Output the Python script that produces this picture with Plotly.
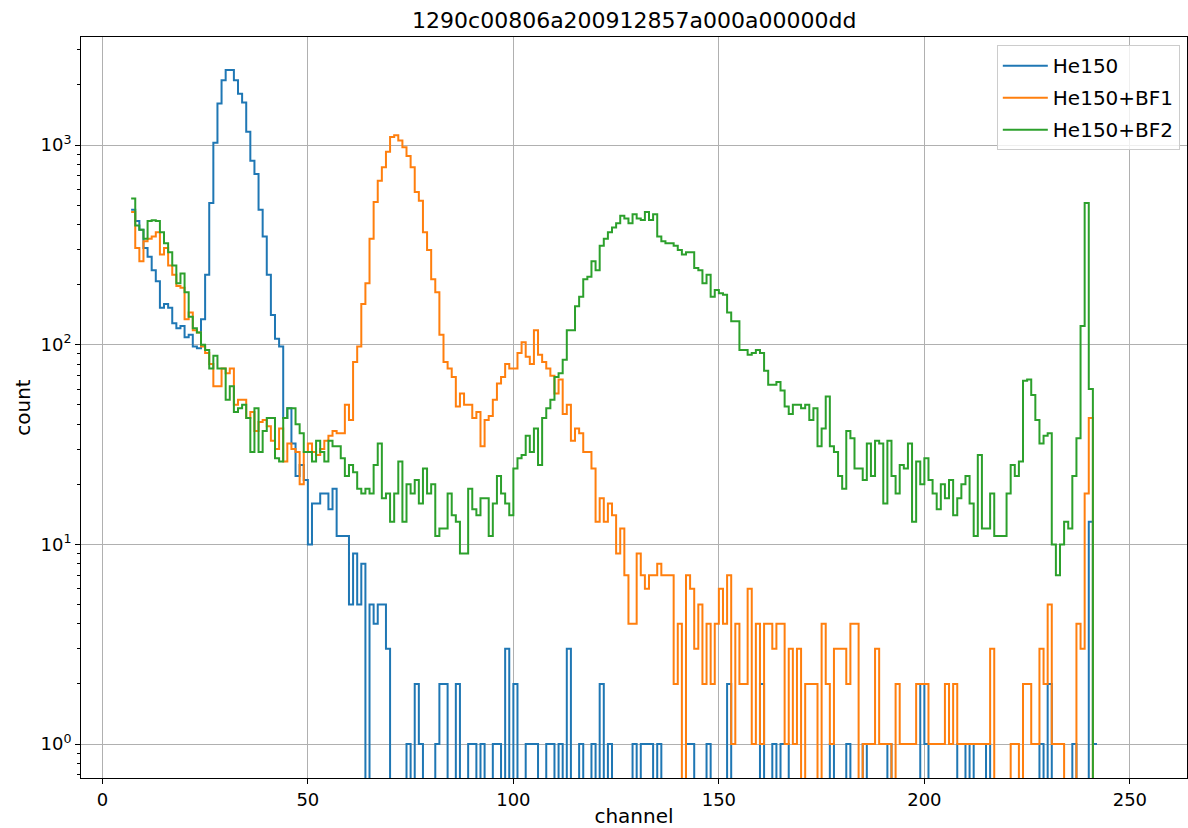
import numpy as np
import plotly.graph_objects as go

# Channel numbers (left bin edge of each count)
channels = list(range(7, 242))

# Counts per channel for each measurement
he150 = [
    474, 417, 376, 305, 276, 236, 208, 153, 160, 153,      # 7-16
    128, 121, 124, 109, 112, 98, 96, 134, 224, 512,        # 17-26
    1026, 1614, 2111, 2376, 2376, 2111, 1808, 1631, 1167, 835,  # 27-36
    716, 474, 348, 224, 141, 107, 98, 43, 48, 32,          # 37-46
    22, 25, 21, 10, 16, 16, 18, 18, 15, 19,                # 47-56
    11, 11, 11, 5, 9, 5, 8, 0, 5, 4,                       # 57-66
    5, 5, 3, 0, 0, 0, 0, 1, 0, 2,                          # 67-76
    1, 0, 0, 0, 1, 2, 2, 0, 0, 2,                          # 77-86
    0, 0, 1, 1, 0, 1, 0, 0, 1, 1,                          # 87-96
    0, 3, 0, 2, 0, 0, 1, 1, 1, 0,                          # 97-106
    0, 1, 1, 0, 1, 0, 3, 0, 0, 1,                          # 107-116
    0, 0, 1, 0, 2, 0, 1, 0, 0, 0,                          # 117-126
    0, 0, 1, 0, 1, 1, 1, 0, 1, 0,                          # 127-136
    0, 0, 0, 0, 0, 1, 1, 0, 0, 0,                          # 137-146
    1, 0, 0, 0, 0, 2, 0, 0, 0, 0,                          # 147-156
    0, 0, 0, 2, 0, 0, 1, 0, 1, 1,                          # 157-166
    0, 0, 0, 0, 0, 0, 0, 0, 0, 0,                          # 167-176
    1, 0, 0, 0, 1, 0, 0, 0, 1, 0,                          # 177-186
    0, 0, 0, 0, 1, 0, 0, 0, 0, 0,                          # 187-196
    0, 0, 2, 1, 0, 0, 0, 0, 0, 0,                          # 197-206
    0, 1, 1, 0, 1, 0, 0, 0, 1, 0,                          # 207-216
    0, 0, 0, 0, 0, 0, 0, 0, 0, 0,                          # 217-226
    0, 1, 0, 2, 0, 0, 0, 0, 0, 1,                          # 227-236
    0, 0, 0, 13, 1,                                        # 237-241
]

he150_bf1 = [
    462, 305, 262, 330, 339, 348, 366, 283, 305, 249,      # 7-16
    224, 197, 193, 134, 145, 118, 115, 98, 91, 80,         # 17-26
    62, 62, 76, 72, 76, 50, 53, 53, 43, 46,                # 27-36
    37, 41, 42, 39, 33, 30, 38, 26, 32, 30,                # 37-46
    29, 20, 29, 32, 29, 28, 30, 33, 35, 37,                # 47-56
    36, 36, 50, 42, 82, 98, 160, 203, 339, 518,            # 57-66
    662, 773, 925, 1097, 1120, 1053, 975, 880, 773, 582,   # 67-76
    526, 366, 298, 213, 183, 112, 82, 76, 69, 49,          # 77-86
    57, 50, 50, 43, 46, 31, 42, 44, 53, 64,                # 87-96
    69, 80, 76, 76, 91, 103, 87, 80, 118, 89,              # 97-106
    82, 76, 70, 57, 67, 45, 50, 33, 38, 36,                # 107-116
    29, 29, 24, 13, 17, 13, 16, 14, 9, 12,                 # 117-126
    7, 4, 4, 9, 7, 6, 7, 7, 8, 7,                          # 127-136
    7, 7, 2, 4, 0, 7, 6, 3, 5, 2,                          # 137-146
    4, 2, 4, 6, 4, 7, 1, 4, 2, 2,                          # 147-156
    6, 1, 4, 1, 4, 4, 3, 4, 4, 1,                          # 157-166
    3, 1, 3, 0, 2, 2, 2, 0, 4, 2,                          # 167-176
    1, 3, 3, 3, 2, 4, 4, 0, 1, 1,                          # 177-186
    1, 3, 1, 1, 1, 0, 2, 1, 1, 1,                          # 187-196
    1, 2, 2, 2, 1, 1, 1, 1, 2, 1,                          # 197-206
    2, 1, 1, 1, 1, 1, 1, 1, 1, 3,                          # 207-216
    0, 0, 0, 0, 1, 1, 0, 2, 2, 1,                          # 217-226
    1, 3, 2, 5, 1, 1, 1, 0, 0, 0,                          # 227-236
    4, 3, 18, 43, 0,                                       # 237-241
]

he150_bf2 = [
    539, 395, 376, 339, 417, 420, 417, 366, 322, 290,      # 7-16
    249, 203, 227, 183, 138, 121, 115, 100, 94, 76,        # 17-26
    88, 76, 76, 53, 62, 46, 48, 50, 43, 29,                # 27-36
    48, 29, 37, 43, 43, 27, 26, 43, 48, 48,                # 37-46
    40, 36, 29, 29, 26, 33, 29, 26, 33, 31,                # 47-56
    31, 27, 22, 25, 23, 19, 18, 19, 18, 25,                # 57-66
    32, 17, 18, 13, 18, 26, 13, 20, 18, 21,                # 67-76
    16, 24, 18, 20, 11, 12, 12, 18, 14, 13,                # 77-86
    9, 9, 19, 15, 14, 17, 17, 11, 16, 22,                  # 87-96
    18, 16, 14, 24, 27, 28, 35, 29, 38, 25,                # 97-106
    43, 48, 53, 69, 72, 84, 118, 118, 156, 174,            # 107-116
    213, 219, 262, 236, 313, 339, 366, 386, 406, 443,      # 117-126
    428, 406, 450, 428, 421, 462, 421, 450, 348, 330,      # 127-136
    322, 322, 313, 298, 283, 290, 290, 242, 236, 203,      # 137-146
    224, 174, 188, 181, 178, 145, 131, 131, 94, 94,        # 147-156
    89, 91, 94, 91, 74, 63, 63, 65, 59, 49,                # 157-166
    45, 50, 50, 48, 50, 42, 48, 31, 38, 55,                # 167-176
    31, 29, 22, 19, 37, 34, 24, 24, 21, 32,                # 177-186
    22, 33, 32, 16, 33, 22, 18, 25, 24, 32,                # 187-196
    13, 26, 20, 27, 21, 18, 15, 20, 17, 21,                # 197-206
    14, 17, 20, 22, 16, 11, 28, 12, 12, 18,                # 207-216
    11, 11, 11, 18, 25, 22, 26, 66, 67, 56,                # 217-226
    42, 32, 35, 36, 10, 7, 10, 13, 12, 22,                 # 227-236
    34, 124, 512, 60, 0,                                   # 237-241
]

series = [
    ("He150", he150, "#1f77b4"),
    ("He150+BF1", he150_bf1, "#ff7f0e"),
    ("He150+BF2", he150_bf2, "#2ca02c"),
]

# y-axis decades and their labels
decades = [1, 10, 100, 1000]
decade_labels = ["10<sup>0</sup>", "10<sup>1</sup>", "10<sup>2</sup>", "10<sup>3</sup>"]
minor_vals = [m * d for d in [0.1, 1, 10, 100, 1000] for m in range(2, 10)]

fig = go.Figure()
for name, counts, color in series:
    x = np.array(channels + [channels[-1] + 1], dtype=float)
    y = np.array(counts + [counts[-1]], dtype=float)
    # empty channels fall below the log axis, so the step drops out of view
    y = np.where(y > 0, y, 1e-3)
    fig.add_trace(go.Scatter(
        x=x, y=y, mode="lines", name=name, legendgroup=name,
        line=dict(color=color, width=2, shape="hv"),
    ))

font_family = "DejaVu Sans, sans-serif"
fig.update_layout(
    width=1188, height=828,
    margin=dict(l=81, r=1, t=37, b=50),
    paper_bgcolor="white", plot_bgcolor="white",
    font=dict(family=font_family, size=18, color="black"),
    title=dict(text="1290c00806a200912857a000a00000dd", x=0.5339, xanchor="center",
               y=0.976, yanchor="middle", font=dict(size=22)),
    legend=dict(x=0.9935, y=0.989, xanchor="right", yanchor="top",
                bgcolor="rgba(255,255,255,0.8)", bordercolor="#cccccc", borderwidth=1,
                font=dict(size=20), itemwidth=45, traceorder="grouped",
                tracegroupgap=3),
    showlegend=True,
)
fig.update_xaxes(
    range=[-5.2, 263.9], tickvals=[0, 50, 100, 150, 200, 250],
    showline=True, linecolor="black", linewidth=1, mirror=True,
    ticks="outside", ticklen=5, tickcolor="black",
    showgrid=True, gridcolor="#b0b0b0", gridwidth=1, zeroline=False,
    title=dict(text="channel", font=dict(size=20), standoff=2),
    tickfont=dict(size=18),
)
fig.update_yaxes(
    type="log", range=[-0.170, 3.541],
    tickvals=decades, ticktext=decade_labels,
    showline=True, linecolor="black", linewidth=1, mirror=True,
    ticks="outside", ticklen=5, tickcolor="black",
    showgrid=True, gridcolor="#b0b0b0", gridwidth=1, zeroline=False,
    minor=dict(tickvals=minor_vals, ticks="outside", ticklen=3, tickcolor="black", showgrid=False),
    title=dict(text="count", font=dict(size=20), standoff=4),
    tickfont=dict(size=18),
)

fig.write_html("out.html")
